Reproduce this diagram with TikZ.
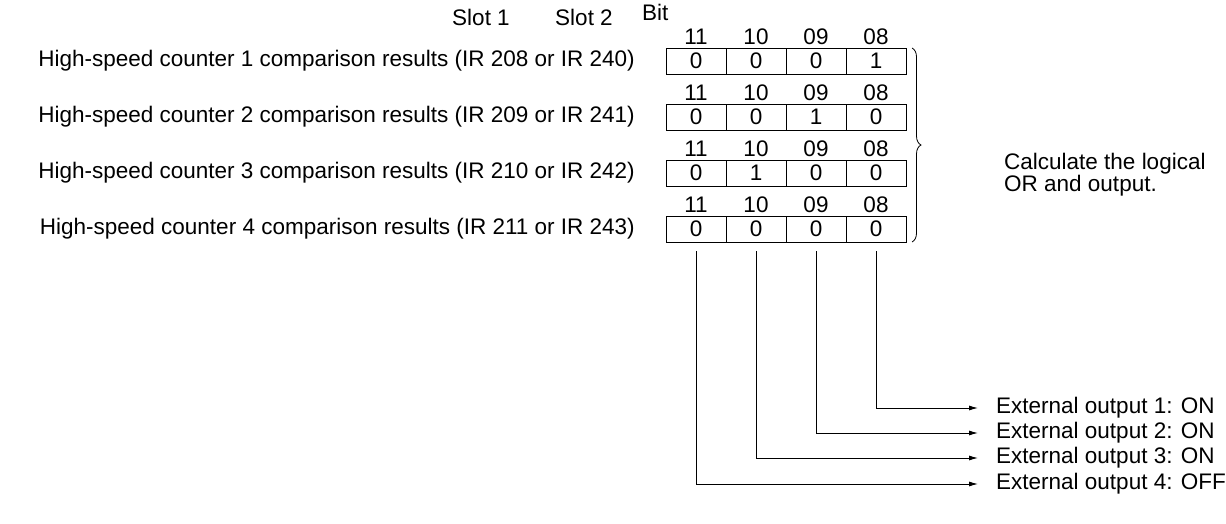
\documentclass[tikz,border=0pt]{standalone}
\usepackage{fontspec}
\setmainfont{Liberation Sans}
\usetikzlibrary{decorations.pathreplacing,arrows.meta}
\begin{document}
\begin{tikzpicture}[x=1pt,y=-1pt,
  txt/.style={inner sep=0pt,font=\fontsize{22.5}{24}\selectfont},
  cell/.style={draw,line width=0.9pt,minimum width=60pt,minimum height=26pt,inner sep=0pt,font=\fontsize{22.5}{24}\selectfont},
  conn/.style={line width=0.9pt,-{Latex[length=9pt,width=5pt]}}]
\useasboundingbox (0,0) rectangle (1226,523);
\node[txt] (s1) at (481,17) {Slot 1};
\node[txt] (s2) at (584,17) {Slot 2};
\node[txt,anchor=west] (bit) at (642,12) {Bit};
\foreach \r/\y/\a/\b/\c/\d/\irA/\irB in {1/61/0/0/0/1/208/240,2/117/0/0/1/0/209/241,3/173/0/1/0/0/210/242,4/229/0/0/0/0/211/243}{
  \node[txt,anchor=east] (t\r) at (635,\y) {High-speed counter \r\ comparison results (IR \irA\ or IR \irB)};
  \node[cell] (c\r a) at (696,\y) {\a};
  \node[cell] (c\r b) at (756,\y) {\b};
  \node[cell] (c\r c) at (816,\y) {\c};
  \node[cell] (c\r d) at (876,\y) {\d};
  \node[txt] (l\r a) at (696,\y-24) {11};
  \node[txt] (l\r b) at (756,\y-24) {10};
  \node[txt] (l\r c) at (816,\y-24) {09};
  \node[txt] (l\r d) at (876,\y-24) {08};
}
\coordinate (b1) at (912,48);
\coordinate (b2) at (912,242);
\draw[line width=0.8pt,decorate,decoration={brace,amplitude=9pt}] (b1) -- (b2);
\node[txt,anchor=west,align=left,font=\fontsize{22.5}{18}\selectfont] (calc) at (1004,175) {Calculate the logical\\OR and output.};
\foreach \i/\c/\y/\s in {1/d/408/ON,2/c/433/ON,3/b/458/ON,4/a/484/OFF}{
  \node[txt,anchor=west] (e\i) at (996,\y) {External output \i: \s};
  \coordinate (v\i) at ([yshift=-9pt]c4\c.south);
  \draw[conn] (v\i) |- ([xshift=-18pt]e\i.west);
}
\end{tikzpicture}
\end{document}
